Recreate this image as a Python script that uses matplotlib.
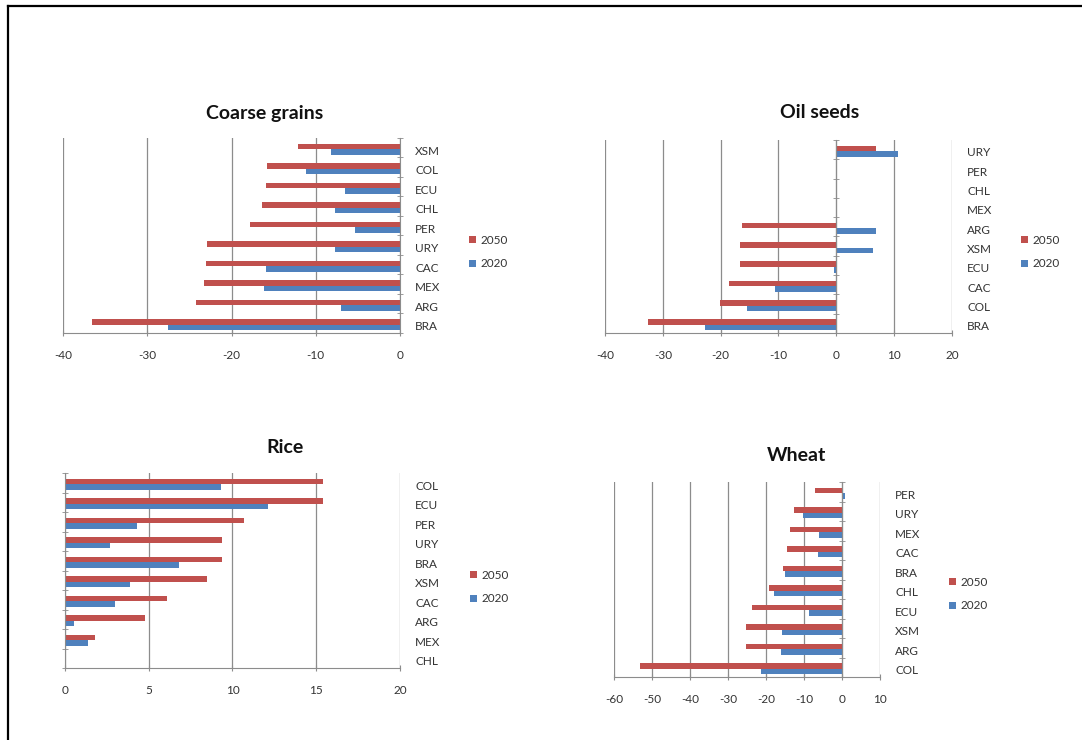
import matplotlib
matplotlib.use("Agg")
import matplotlib.pyplot as plt
from matplotlib.lines import Line2D
import numpy as np

plt.rcParams['font.family'] = ['Lato', 'DejaVu Sans']
plt.rcParams['axes.unicode_minus'] = False

series_names = ["2050", "2020"]
colors = {"2050": "#C0504D", "2020": "#4F81BD"}

# Coarse grains (bottom to top)
cg_cats = ["BRA", "ARG", "MEX", "CAC", "URY", "PER", "CHL", "ECU", "COL", "XSM"]
cg_2050 = [-36.6, -24.2, -23.3, -23.0, -22.9, -17.8, -16.4, -15.9, -15.8, -12.1]
cg_2020 = [-27.5, -7.0, -16.1, -15.9, -7.7, -5.4, -7.7, -6.5, -11.1, -8.2]

# Oil seeds
os_cats = ["BRA", "COL", "CAC", "ECU", "XSM", "ARG", "MEX", "CHL", "PER", "URY"]
os_2050 = [-32.5, -20.1, -18.5, -16.7, -16.7, -16.3, 0.0, 0.0, 0.0, 6.9]
os_2020 = [-22.7, -15.5, -10.6, -0.35, 6.3, 6.8, 0.0, 0.0, 0.0, 10.7]

# Rice
rc_cats = ["CHL", "MEX", "ARG", "CAC", "XSM", "BRA", "URY", "PER", "ECU", "COL"]
rc_2050 = [0.0, 1.8, 4.8, 6.1, 8.5, 9.4, 9.4, 10.7, 15.4, 15.4]
rc_2020 = [0.0, 1.35, 0.56, 3.0, 3.9, 6.8, 2.7, 4.3, 12.1, 9.3]

# Wheat
wh_cats = ["COL", "ARG", "XSM", "ECU", "CHL", "BRA", "CAC", "MEX", "URY", "PER"]
wh_2050 = [-53.1, -25.2, -25.2, -23.6, -19.2, -15.4, -14.4, -13.8, -12.6, -7.0]
wh_2020 = [-21.2, -16.0, -15.7, -8.8, -18.0, -14.9, -6.2, -6.1, -10.3, 0.9]

W, H = 1082, 740
fig = plt.figure(figsize=(W / 100, H / 100), dpi=100)

def px_axes(x0, x1, ytop, ybot):
    return fig.add_axes([x0 / W, 1 - ybot / H, (x1 - x0) / W, (ybot - ytop) / H])

GRID = "#8C8C8C"

def panel(rect, cats, v50, v20, xlim, xstep, title, title_xy, leg_xy):
    ax = px_axes(*rect)
    y = np.arange(len(cats)) - 0.08
    bh = 0.29
    b1 = ax.barh(y + bh / 2, v50, height=bh, color=colors["2050"], label="2050", zorder=3)
    b2 = ax.barh(y - bh / 2, v20, height=bh, color=colors["2020"], label="2020", zorder=3)
    ax.set_xlim(*xlim)
    ax.set_ylim(-0.5, len(cats) - 0.5)
    ax.set_xticks(np.arange(xlim[0], xlim[1] + 0.01, xstep))
    ax.xaxis.grid(True, color=GRID, linewidth=0.9, zorder=0)
    ax.set_axisbelow(True)
    for s in ["top", "right"]:
        ax.spines[s].set_visible(False)
    ax.spines["left"].set_position(("data", 0))
    ax.spines["left"].set_color(GRID)
    ax.spines["bottom"].set_color(GRID)
    ax.spines["left"].set_zorder(4)
    ax.tick_params(axis="x", direction="inout", length=5, color=GRID, pad=10,
                   labelsize=8.5, labelcolor="#333333")
    ax.set_yticks(y - 0.04)
    ax.set_yticklabels(cats)
    ax.set_yticks(np.arange(-0.5, len(cats), 1.0), minor=True)
    ax.tick_params(axis="y", which="major", left=False, right=False,
                   labelleft=False, labelright=True, length=0, pad=11,
                   labelsize=8.5, labelcolor="#333333")
    ax.tick_params(axis="y", which="minor", left=True, right=False,
                   direction="inout", length=4, color=GRID)
    fig.text(title_xy[0] / W, 1 - title_xy[1] / H, title, ha="center", va="center",
             fontsize=14, fontweight="bold", color="#111111")
    fig.legend(handles=[b1, b2], labels=series_names, loc="center left",
               bbox_to_anchor=(leg_xy[0] / W, 1 - leg_xy[1] / H), frameon=False,
               fontsize=8.5, handlelength=0.6, handleheight=0.6, handletextpad=0.4,
               labelspacing=1.1, borderaxespad=0, labelcolor="#333333")
    return ax

panel((63, 400, 138, 333), cg_cats, cg_2050, cg_2020, (-40, 0), 10,
      "Coarse grains", (265, 113), (464, 252))
panel((605, 952, 140, 333), os_cats, os_2050, os_2020, (-40, 20), 10,
      "Oil seeds", (820, 113), (1016, 252))
panel((65, 400, 473, 668), rc_cats, rc_2050, rc_2020, (0, 20), 5,
      "Rice", (285, 447), (465, 587))
panel((614, 880, 482, 677), wh_cats, wh_2050, wh_2020, (-60, 10), 10,
      "Wheat", (797, 455), (944, 594))

# figure frame (top and left edges)
fig.add_artist(Line2D([7.5 / W, 1.0], [1 - 5.5 / H, 1 - 5.5 / H],
                      transform=fig.transFigure, color="black", linewidth=1.6))
fig.add_artist(Line2D([7.5 / W, 7.5 / W], [0.0, 1 - 5.5 / H],
                      transform=fig.transFigure, color="black", linewidth=1.6))

fig.savefig("out.png", dpi=100, facecolor="white")
